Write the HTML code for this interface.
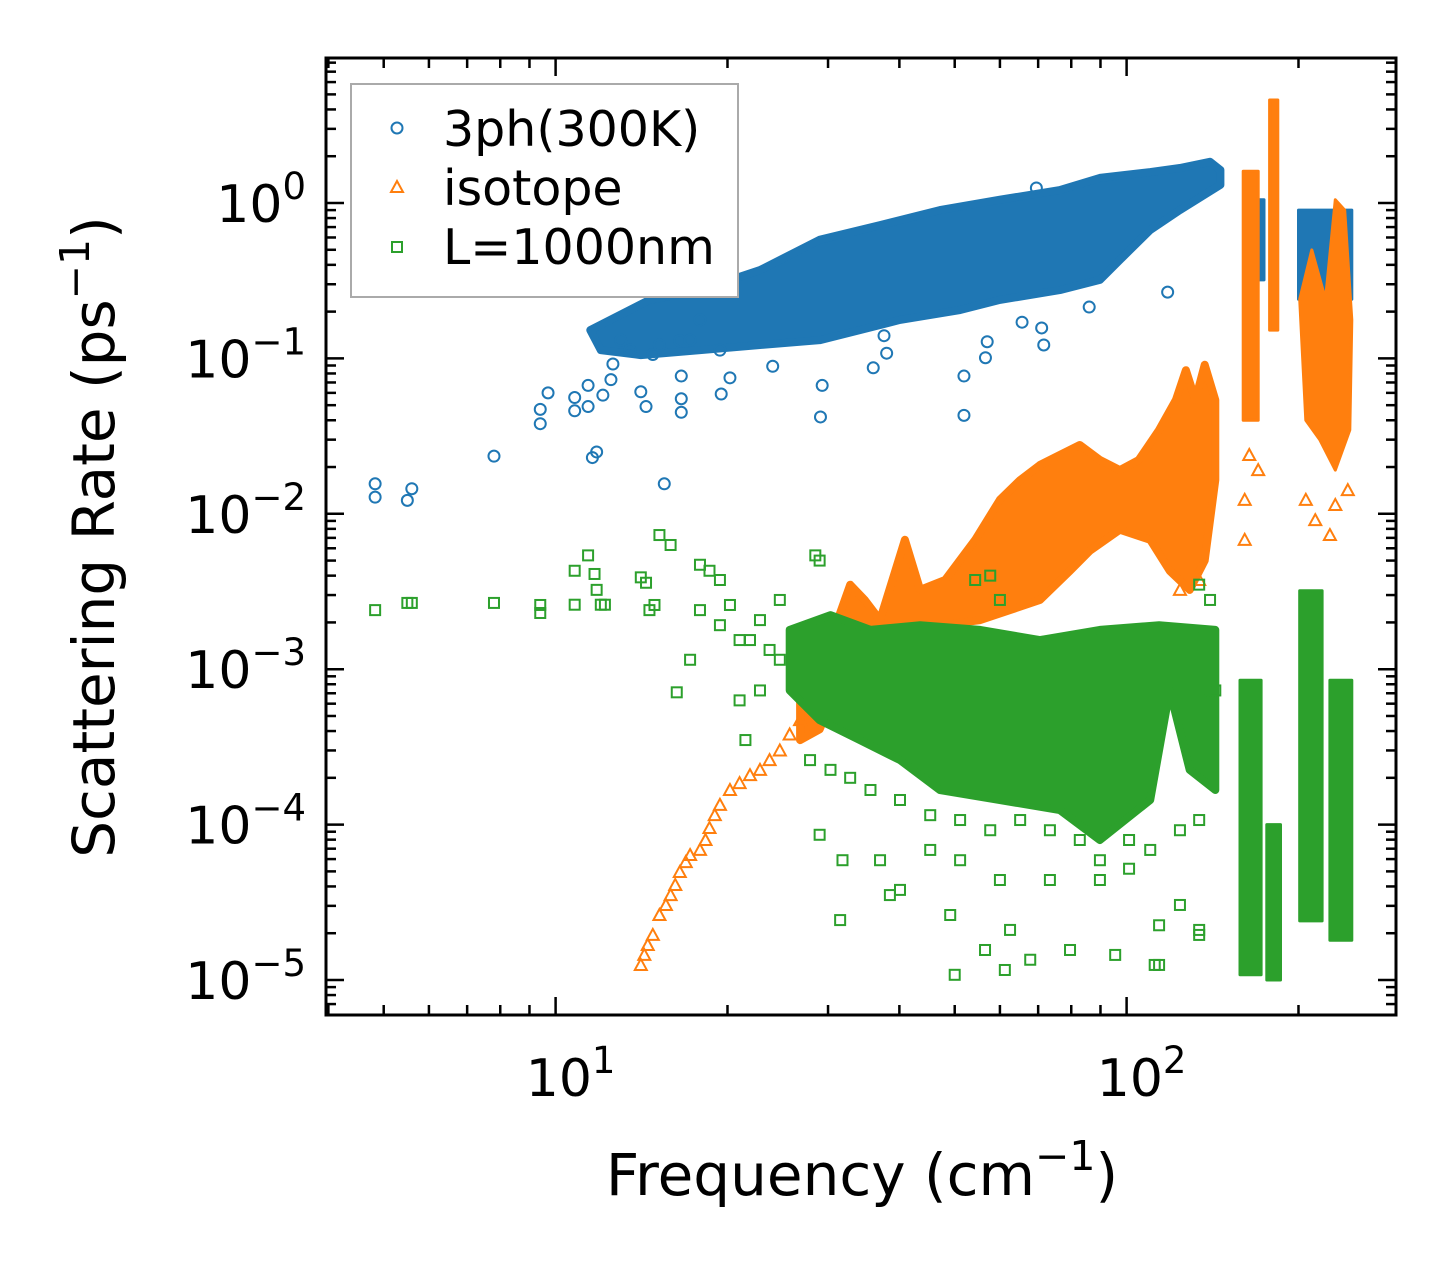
<!DOCTYPE html>
<html><head><meta charset="utf-8"><style>
html,body{margin:0;padding:0;background:#fff;}
svg{display:block;font-family:"DejaVu Sans","Liberation Sans",sans-serif;}
</style></head><body>
<svg id="chart" width="1455" height="1265" viewBox="0 0 1455 1265" xmlns="http://www.w3.org/2000/svg">
<rect x="0" y="0" width="1455" height="1265" fill="#fff"/>
<g id="marks"></g>
<g id="axes"></g>
<text x="0" y="0" transform="translate(114,537) rotate(-90)" text-anchor="middle" font-size="58">Scattering Rate (ps<tspan dy="-25" font-size="41">−1</tspan><tspan dy="25">)</tspan></text>
<text x="862" y="1195" text-anchor="middle" font-size="58">Frequency (cm<tspan dy="-25" font-size="41">−1</tspan><tspan dy="25">)</tspan></text>
<g>
<rect x="351" y="84" width="387" height="213" fill="#fff" stroke="#aaa" stroke-width="2"/>
<circle cx="397" cy="128" r="5.5" fill="none" stroke="#1f77b4" stroke-width="2"/>
<text x="443" y="146" font-size="49">3ph(300K)</text>
<path d="M397,181 L403,192 L391,192 Z" fill="none" stroke="#ff7f0e" stroke-width="2"/>
<text x="443" y="205" font-size="49">isotope</text>
<rect x="392" y="242" width="10" height="10" fill="none" stroke="#2ca02c" stroke-width="2"/>
<text x="443" y="264" font-size="49">L=1000nm</text>
</g>
</svg>
<script>
// ---- data (frequency in cm^-1, rate in ps^-1) ----
const blueFreq = [4.83,4.83,5.5,5.6,7.8,9.4,9.4,9.7,10.8,10.8,11.4,11.4,11.6,11.8,12.1,12.5,12.6,14.1,14.4,14.8,15.5,16.6,16.6,16.6,16.5,17.9,20.2,19.5,24.0,29.1,29.3,51.9,51.9,71.6,71,65.6,56.6,57,118,69.5,86,36,38,37.6,13,13.5,15.2,17.2,19.4];
const blueRate = [0.0156,0.0128,0.0122,0.0145,0.0235,0.047,0.038,0.060,0.046,0.056,0.049,0.067,0.023,0.025,0.058,0.073,0.092,0.061,0.049,0.106,0.0156,0.055,0.045,0.077,0.13,0.177,0.075,0.059,0.089,0.042,0.067,0.077,0.043,0.122,0.157,0.171,0.101,0.128,0.267,1.25,0.214,0.087,0.108,0.14,0.131,0.113,0.122,0.131,0.113];
const blueBands = [
 [[11.5,0.152],[14.6,0.238],[17.9,0.275],[22.8,0.37],[29.0,0.58],[37.0,0.72],[47.1,0.90],[60.0,1.05],[76.4,1.21],[89.8,1.45],[110,1.58],[124,1.68],[140,1.84],[146,1.63],[146,1.31],[124,0.90],[110,0.67],[97.3,0.43],[89.8,0.32],[76.4,0.275],[60.0,0.238],[51.1,0.205],[40.1,0.177],[34.1,0.152],[29.0,0.131],[22.8,0.122],[17.9,0.113],[14.1,0.105],[12.0,0.113]],
 [[163,1.05],[174,1.05],[174,0.32],[163,0.32]],
 [[200,0.9],[248,0.9],[248,0.24],[200,0.24]]
];
const orangeFreq = [14.1,14.3,14.5,14.8,15.2,15.6,15.9,16.2,16.5,16.9,17.2,17.9,18.3,18.6,19.0,19.4,20.2,21.0,21.9,22.8,23.7,24.7,25.7,26.8,161,164,170,161,206,214,232,244,227,140,134,124];
const orangeRate = [1.25e-5,1.45e-5,1.68e-5,1.95e-5,2.62e-5,3.04e-5,3.52e-5,4.09e-5,4.95e-5,5.74e-5,6.37e-5,6.87e-5,7.96e-5,9.5e-5,1.15e-4,1.34e-4,1.67e-4,1.85e-4,2.08e-4,2.25e-4,2.6e-4,3.0e-4,3.8e-4,4.7e-4,0.0068,0.0239,0.0191,0.0123,0.0123,0.0091,0.0114,0.0142,0.0073,0.000325,0.00375,0.00324];
const orangeBands = [
 [[26.8,0.00063],[30.3,0.00154],[32.8,0.0035],[34.8,0.00279],[37,0.00207],[40.9,0.0068],[43.5,0.00324],[48.1,0.00375],[54.3,0.0068],[60,0.0123],[65.1,0.0165],[70.5,0.0206],[76.4,0.0239],[82.8,0.0277],[89.8,0.0222],[97.3,0.0191],[105,0.0222],[114,0.0346],[122,0.054],[127,0.084],[132,0.054],[137,0.091],[143,0.054],[143,0.0165],[137,0.005],[129,0.00324],[119,0.0043],[110,0.0068],[97.3,0.0079],[86.3,0.0058],[79.6,0.0043],[70.5,0.00279],[62.5,0.0024],[55.4,0.00207],[47.1,0.00192],[40.1,0.00154],[35.6,0.00133],[31.5,0.00085],[29,0.00041],[26.8,0.00035]],
 [[160,1.6],[170,1.6],[170,0.04],[160,0.04]],
 [[178,4.6],[184,4.6],[184,0.152],[178,0.152]],
 [[201,0.24],[211,0.499],[223,0.24],[232,1.05],[241,0.9],[248,0.177],[246,0.0346],[232,0.0191],[218,0.0299],[206,0.040]]
];
const greenFreq = [4.83,5.5,5.6,7.8,9.4,9.4,10.8,10.8,11.4,11.7,11.8,12.0,12.2,14.1,14.4,14.6,15.2,15.9,16.3,14.9,17.2,17.9,18.6,19.4,21.5,21.0,22.8,28.5,29.0,29,31.8,31.5,37,38.5,40.1,45.3,49.1,50,56.5,61.2,67.8,62.5,79.6,95.5,112,114,124,134,134,114,101,89.8,73.4,60,51.1,140,140,143,134,60,54.3,57.7,89.8,82.8,73.4,65.1,57.7,51.1,45.3,40.1,35.6,32.8,30.3,27.9,101,110,124,134,19.4,21,22.8,24.7,17.9,20.2,23.7,21.9,24.7];
const greenRate = [0.0024,0.00267,0.00267,0.00267,0.0023,0.00259,0.0026,0.0043,0.0054,0.0041,0.00324,0.0026,0.0026,0.0039,0.0036,0.0024,0.0073,0.0063,0.00071,0.00259,0.00115,0.0047,0.0043,0.00375,0.00035,0.00063,0.00073,0.0054,0.005,8.6e-5,5.9e-5,2.43e-5,5.9e-5,3.52e-5,3.8e-5,6.87e-5,2.62e-5,1.08e-5,1.56e-5,1.16e-5,1.35e-5,2.1e-5,1.56e-5,1.45e-5,1.25e-5,1.25e-5,3.04e-5,2.1e-5,1.95e-5,2.25e-5,5.2e-5,4.4e-5,4.4e-5,4.4e-5,5.9e-5,0.00279,0.00063,0.00073,0.0035,0.00279,0.00375,0.0040,5.9e-5,7.96e-5,9.2e-5,1.07e-4,9.2e-5,1.07e-4,1.15e-4,1.44e-4,1.67e-4,2.0e-4,2.25e-4,2.6e-4,7.96e-5,6.87e-5,9.2e-5,1.07e-4,0.00192,0.00154,0.00207,0.00279,0.0024,0.00259,0.00133,0.00154,0.00115];
const greenBands = [
 [[25.7,0.00179],[30.3,0.00223],[35.6,0.00179],[43.5,0.00192],[55.4,0.00179],[70.5,0.00154],[89.8,0.00179],[114,0.00192],[143,0.00179],[143,0.000167],[129,0.000225],[119,0.00073],[110,0.000144],[89.8,0.0000796],[76.4,0.000124],[60,0.000144],[47.1,0.000167],[40.1,0.00026],[34.1,0.00035],[29,0.00047],[25.7,0.00073]],
 [[158,0.00085],[172,0.00085],[172,1.08e-5],[158,1.08e-5]],
 [[176,1.0e-4],[186,1.0e-4],[186,1.0e-5],[176,1.0e-5]],
 [[201,0.0032],[220,0.0032],[220,2.4e-5],[201,2.4e-5]],
 [[227,0.00085],[248,0.00085],[248,1.8e-5],[227,1.8e-5]]
];
const xMajorTicks = [10,100];
const xTickLabels = ["1","2"];
const yMajorTicks = [1,0.1,0.01,0.001,0.0001,0.00001];
const yTickLabels = ["0","−1","−2","−3","−4","−5"];

// ---- axis functions ----
const L=326,R=1396,T=58,B=1015;
const X0=555.6, XD=571, Y0=203, YD=155.4;
function X(f){return X0+(Math.log10(f)-1)*XD;}
function Y(r){return Y0-Math.log10(r)*YD;}
const NS="http://www.w3.org/2000/svg";
const marks=document.getElementById('marks');
const axes=document.getElementById('axes');
function mk(tag,attrs,parent){const e=document.createElementNS(NS,tag);for(const k in attrs)e.setAttribute(k,attrs[k]);parent.appendChild(e);return e;}

function drawBands(bands,color,name){
  bands.forEach(function(b,i){
    const pts=b.map(function(p){return X(p[0]).toFixed(1)+','+Y(p[1]).toFixed(1);}).join(' ');
    const e=mk('polygon',{points:pts,fill:color,stroke:color,'stroke-width':(i===0?8:3),'stroke-linejoin':'round'},marks);
    
    
  });
}
function drawPoints(fs,rs,color,shape,name){
  for(let i=0;i<fs.length;i++){
    const x=X(fs[i]),y=Y(rs[i]);let e;
    if(shape==='circle') e=mk('circle',{cx:x,cy:y,r:5.5,fill:'none',stroke:color,'stroke-width':2},marks);
    else if(shape==='tri') e=mk('path',{d:'M'+x+','+(y-6)+' L'+(x+6)+','+(y+5)+' L'+(x-6)+','+(y+5)+' Z',fill:'none',stroke:color,'stroke-width':2},marks);
    else e=mk('rect',{x:x-5,y:y-5,width:10,height:10,fill:'none',stroke:color,'stroke-width':2},marks);
    
    
  }
}
drawBands(blueBands,'#1f77b4','3ph-dense-region');
drawPoints(blueFreq,blueRate,'#1f77b4','circle','3ph-point');
drawBands(orangeBands,'#ff7f0e','isotope-dense-region');
drawPoints(orangeFreq,orangeRate,'#ff7f0e','tri','isotope-point');
drawBands(greenBands,'#2ca02c','boundary-dense-region');
drawPoints(greenFreq,greenRate,'#2ca02c','square','boundary-point');

const fr=mk('rect',{x:L,y:T,width:R-L,height:B-T,fill:'none',stroke:'#000','stroke-width':3},axes);


for(let d=1;d<=100;d*=10){for(let m=1;m<=9;m++){const v=d*m;const x=X(v);if(x<L+2||x>R-2)continue;const len=(m===1)?18:10;
  const t1=mk('line',{x1:x,y1:B,x2:x,y2:B-len,stroke:'#000','stroke-width':2.5},axes);
  
  
  const t2=mk('line',{x1:x,y1:T,x2:x,y2:T+len,stroke:'#000','stroke-width':2.5},axes);
  
  }}
for(let e=-6;e<=0;e++){for(let m=1;m<=9;m++){const v=m*Math.pow(10,e);const y=Y(v);if(y<T+2||y>B-2)continue;const len=(m===1)?18:10;
  const t1=mk('line',{x1:L,y1:y,x2:L+len,y2:y,stroke:'#000','stroke-width':2.5},axes);
  
  
  const t2=mk('line',{x1:R,y1:y,x2:R-len,y2:y,stroke:'#000','stroke-width':2.5},axes);
  
  }}
xMajorTicks.forEach(function(v,i){
  const t=mk('text',{x:X(v)+15,y:1096,'text-anchor':'middle','font-size':52},axes);
  
  
  t.appendChild(document.createTextNode('10'));
  const s=mk('tspan',{dy:-23,'font-size':37},t);s.textContent=xTickLabels[i];
});
yMajorTicks.forEach(function(v,i){
  const t=mk('text',{x:306,y:Y(v)+19,'text-anchor':'end','font-size':52},axes);
  
  
  t.appendChild(document.createTextNode('10'));
  const s=mk('tspan',{dy:-23,'font-size':37},t);s.textContent=yTickLabels[i];
});
</script>
</body></html>
